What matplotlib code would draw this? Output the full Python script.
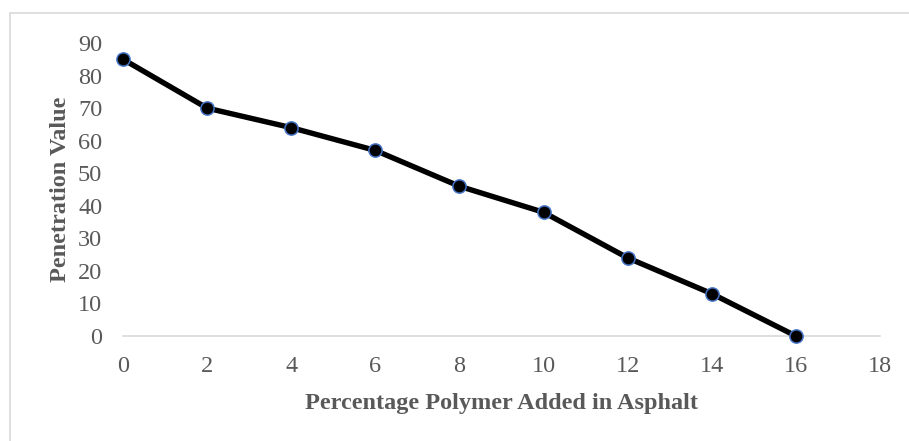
import matplotlib
matplotlib.use("Agg")
import matplotlib.pyplot as plt
from matplotlib.patches import Rectangle

x_values = [0, 2, 4, 6, 8, 10, 12, 14, 16]
penetration = [85, 70, 64, 57, 46, 38, 24, 13, 0]
x_ticks = [0, 2, 4, 6, 8, 10, 12, 14, 16, 18]
y_ticks = [0, 10, 20, 30, 40, 50, 60, 70, 80, 90]

plt.rcParams['font.family'] = ['Liberation Serif', 'DejaVu Serif']
W, H = 909, 441
fig = plt.figure(figsize=(W / 100, H / 100), dpi=100)
fig.patches.append(Rectangle((9.5 / W, -0.5), 2, 1.5 - 13 / H, transform=fig.transFigure,
                             fill=False, edgecolor='#d9d9d9', linewidth=1.2))
ax = fig.add_axes([123 / W, 1 - 336 / H, (880 - 123) / W, (336 - 43) / H])

ax.plot(x_values, penetration, color='black', linewidth=3.9, marker='o',
        markersize=9.5, markerfacecolor='black', markeredgecolor='#4472C4',
        markeredgewidth=1.1, solid_capstyle='round', zorder=3, clip_on=False)

ax.set_xlim(0, 18)
ax.set_ylim(0, 90)
ax.set_xticks(x_ticks)
ax.set_yticks(y_ticks)
for s in ['top', 'right', 'left']:
    ax.spines[s].set_visible(False)
ax.spines['bottom'].set_color('#d9d9d9')
ax.spines['bottom'].set_linewidth(1.2)
ax.tick_params(axis='both', length=0, labelsize=17.5, labelcolor='#595959')
ax.tick_params(axis='x', pad=14.5)
ax.tick_params(axis='y', pad=15)
ax.set_xlabel('Percentage Polymer Added in Asphalt', fontsize=17.5, fontweight='bold',
              color='#595959', labelpad=11.5)
ax.set_ylabel('Penetration Value', fontsize=17.5, fontweight='bold', color='#595959',
              labelpad=5)

fig.savefig('out.png', dpi=100)
